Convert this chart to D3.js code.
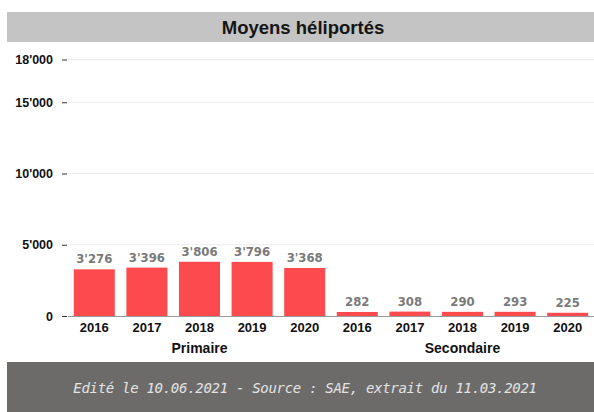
<!DOCTYPE html>
<html>
<head>
<meta charset="utf-8">
<script src="https://cdn.jsdelivr.net/npm/d3@7"></script>
<style>
  body { margin: 0; background: #fff; }
  svg { display: block; }
</style>
</head>
<body>
<div id="chart"></div>
<script>
// Chart data
const groups = ["Primaire", "Secondaire"];
const years = ["2016", "2017", "2018", "2019", "2020"];
const primaire = [3276, 3396, 3806, 3796, 3368];
const secondaire = [282, 308, 290, 293, 225];
const yTicks = [0, 5000, 10000, 15000, 18000];

const w = 594, h = 412;
const svg = d3.select("#chart").append("svg").attr("width", w).attr("height", h);

// Flatten into one row per bar
const rows = [];
groups.forEach((g, gi) => {
  const vals = gi === 0 ? primaire : secondaire;
  years.forEach((y, i) => rows.push({ key: g + y, group: g, year: y, value: vals[i] }));
});

// Scales
const x = d3.scaleBand().domain(rows.map(d => d.key)).range([68, 594]).paddingInner(0.22).paddingOuter(0.11);
const y = d3.scaleLinear().domain([0, 18000]).range([316, 59.5]);

// Thousands separator with apostrophe
const fmt = v => d3.format(",")(v).replace(/,/g, "'");

// Title band
svg.append("rect").attr("x", 7).attr("y", 12).attr("width", w - 7).attr("height", 30).attr("fill", "#c4c4c4");
svg.append("text").text("Moyens héliportés").attr("x", 303).attr("y", 34)
  .attr("text-anchor", "middle").style("font", "bold 18.5px 'Liberation Sans', Arial, sans-serif").attr("fill", "#151515");

// Gridlines
svg.append("g").selectAll("line").data(yTicks.filter(d => d > 0)).enter().append("line")
  .attr("x1", 68).attr("x2", w).attr("y1", d => y(d)).attr("y2", d => y(d))
  .attr("stroke", "#ececec").attr("stroke-width", 1);

// Y axis
const yAxis = svg.append("g").attr("transform", "translate(67,0)")
  .call(d3.axisLeft(y).tickValues(yTicks).tickFormat(fmt).tickSize(5).tickPadding(9));
yAxis.select(".domain").remove();
yAxis.selectAll("line").attr("stroke", "#333");
yAxis.selectAll("text").style("font", "bold 12.5px 'Liberation Sans', Arial, sans-serif").attr("fill", "#111");

// Bars
svg.append("g").selectAll("rect").data(rows).enter().append("rect")
  .attr("x", d => x(d.key)).attr("width", x.bandwidth())
  .attr("y", d => y(d.value)).attr("height", d => y(0) - y(d.value))
  .attr("fill", "#fd4a4f");

// Baseline
svg.append("line").attr("x1", 68).attr("x2", w).attr("y1", y(0) + 0.5).attr("y2", y(0) + 0.5)
  .attr("stroke", "#9a9a9a").attr("stroke-width", 1);

// Value labels
svg.append("g").selectAll("text").data(rows).enter().append("text")
  .text(d => fmt(d.value))
  .attr("x", d => x(d.key) + x.bandwidth() / 2).attr("y", d => y(d.value) - 6)
  .attr("text-anchor", "middle").attr("fill", "#7a7a7a")
  .style("font", "bold 13px 'Liberation Sans Narrow', 'DejaVu Sans Condensed', sans-serif");

// Year labels
svg.append("g").selectAll("text").data(rows).enter().append("text")
  .text(d => d.year)
  .attr("x", d => x(d.key) + x.bandwidth() / 2).attr("y", 332)
  .attr("text-anchor", "middle").attr("fill", "#111")
  .style("font", "bold 13px 'Liberation Sans', Arial, sans-serif");

// Group labels
groups.forEach(g => {
  const keys = rows.filter(d => d.group === g).map(d => d.key);
  const cx = (x(keys[0]) + x(keys[keys.length - 1]) + x.bandwidth()) / 2;
  svg.append("text").text(g).attr("x", cx).attr("y", 353)
    .attr("text-anchor", "middle").attr("fill", "#111")
    .style("font", "bold 14px 'Liberation Sans', Arial, sans-serif");
});

// Footer band
svg.append("rect").attr("x", 7).attr("y", 362).attr("width", w - 7).attr("height", h - 362).attr("fill", "#6c6b6a");
svg.append("text").text("Edité le 10.06.2021 - Source : SAE, extrait du 11.03.2021")
  .attr("x", 305).attr("y", 393).attr("text-anchor", "middle").attr("fill", "#e4e4e4")
  .style("font", "italic 14px 'DejaVu Sans Mono', monospace").style("letter-spacing", "-0.3px");
</script>
</body>
</html>
